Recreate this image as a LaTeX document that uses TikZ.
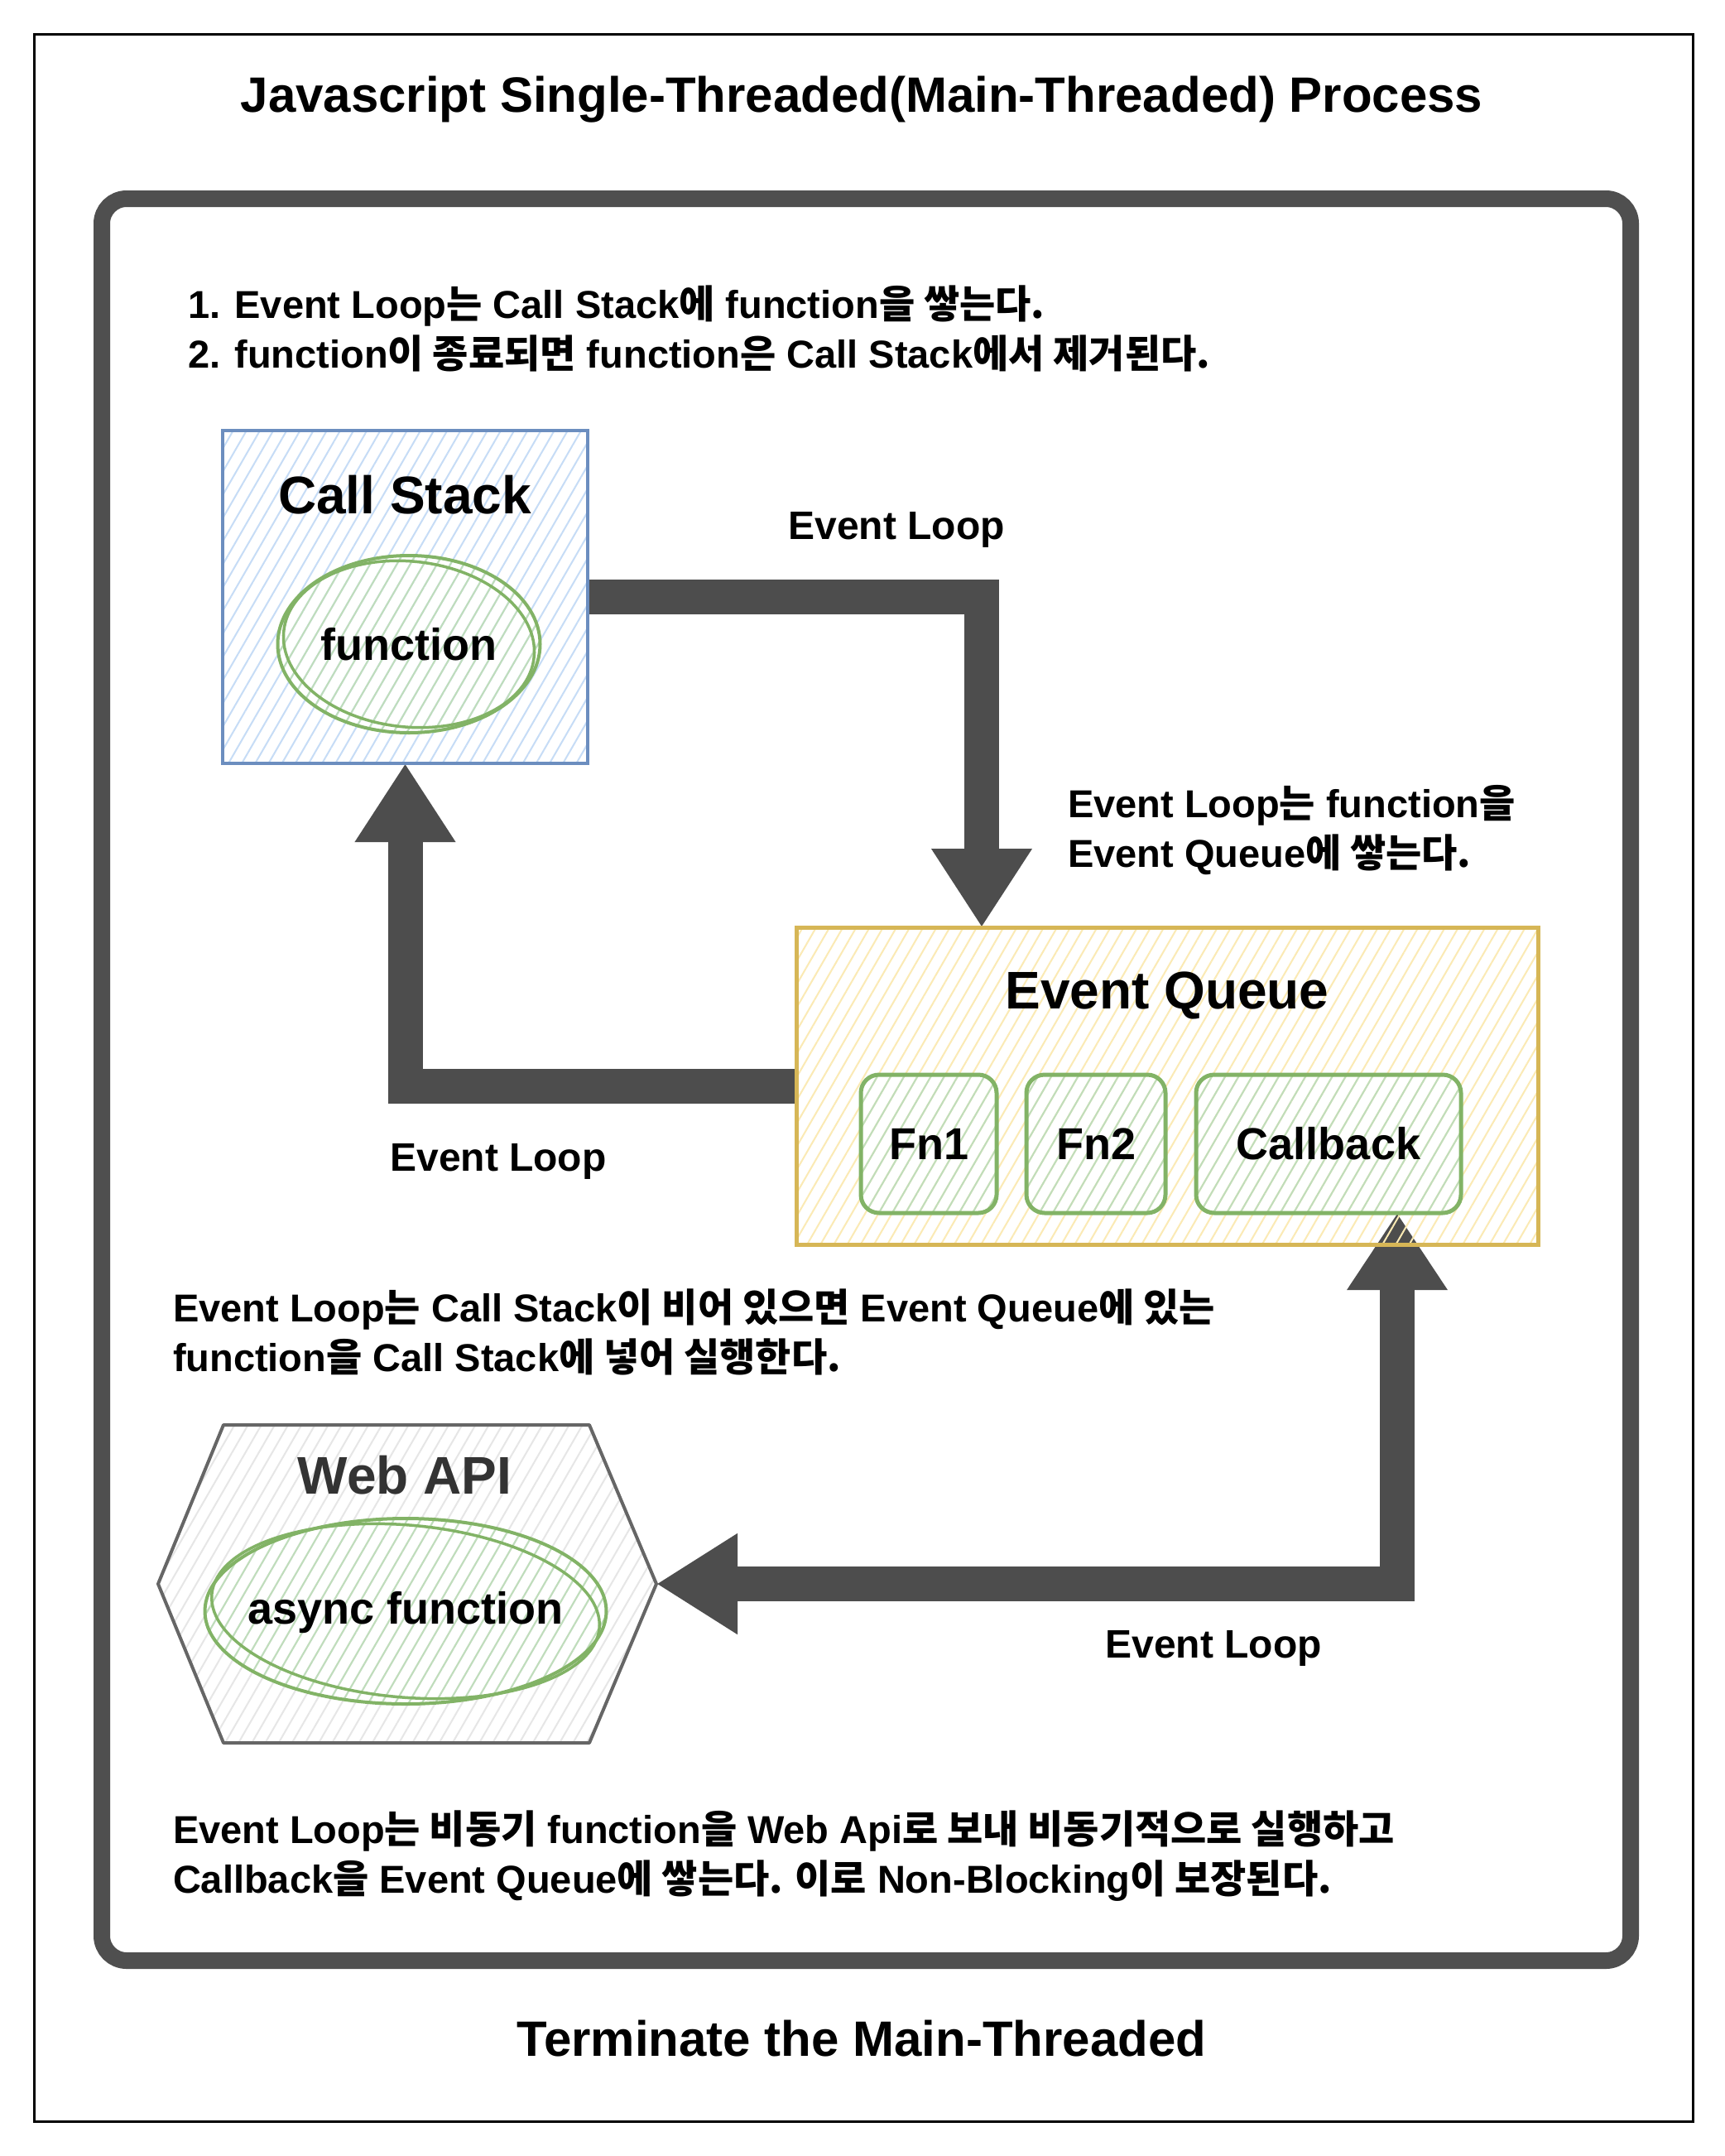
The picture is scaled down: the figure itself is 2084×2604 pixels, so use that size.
\documentclass[tikz,border=0pt]{standalone}
\usepackage{fontspec}
\setmainfont{Liberation Sans}
\newfontfamily\kr{Noto Sans CJK KR}
\usetikzlibrary{arrows.meta,patterns.meta,shapes.geometric,calc}
\definecolor{csstroke}{HTML}{6C8EBF}
\definecolor{cshatch}{HTML}{C6DCF6}
\definecolor{eqstroke}{HTML}{D6B656}
\definecolor{eqhatch}{HTML}{FBEAB4}
\definecolor{grstroke}{HTML}{82B366}
\definecolor{grhatch}{HTML}{BFDDBB}
\definecolor{wastroke}{HTML}{666666}
\definecolor{wahatch}{HTML}{E6E6E6}
\definecolor{watext}{HTML}{333333}
\definecolor{arrowc}{HTML}{4D4D4D}
\definecolor{framec}{HTML}{4F4F4F}
\begin{document}
\begin{tikzpicture}[x=1pt,y=-1pt,
  hatch/.style={pattern={Lines[angle=60,distance=14pt,line width=2pt]},pattern color=#1},
  plain/.style={inner sep=0pt,outer sep=0pt},
  hfont/.style={font=\fontsize{64pt}{76pt}\selectfont\bfseries},
  tfont/.style={font=\fontsize{54pt}{64pt}\selectfont\bfseries},
  lfont/.style={font=\fontsize{48pt}{58pt}\selectfont\bfseries},
  afont/.style={font=\fontsize{47pt}{60pt}\selectfont\bfseries},
  note/.style={plain,afont,align=left,anchor=west},
  greenbox/.style={plain,draw=grstroke,line width=5pt,hatch=grhatch,rounded corners=22pt,tfont},
  greenell/.style={plain,ellipse,draw=grstroke,line width=4pt,hatch=grhatch},
  secondstroke/.style={draw=grstroke,line width=3.5pt},
  flex/.style={draw=arrowc,line width=42pt,line join=miter},
  tipA/.style={-{Triangle[width=115pt,length=95pt]}},
  tipB/.style={{Triangle[width=115pt,length=93pt]}-{Triangle[width=115pt,length=98pt]}}
]
\useasboundingbox (0,0) rectangle (2084,2604);
\fill[white] (0,0) rectangle (2084,2604);

% frames
\node[plain,draw=black,line width=3pt,minimum width=2004pt,minimum height=2520pt] (outer) at (1043,1302) {};
\node[plain,draw=framec,line width=20pt,rounded corners=30pt,minimum width=1847pt,minimum height=2128pt] (main) at (1046.5,1304) {};

\node[plain,font=\fontsize{60pt}{72pt}\selectfont\bfseries] (title) at (1041,120) {Javascript Single-Threaded(Main-Threaded) Process};
\node[plain,font=\fontsize{60pt}{72pt}\selectfont\bfseries] (term) at (1041,2462) {Terminate the Main-Threaded};

% anchors for the boxes (drawn later)
\node[plain,minimum width=441pt,minimum height=402pt] (cs) at (489.5,721) {};
\node[plain,minimum width=896pt,minimum height=383pt] (eq) at (1410,1311.5) {};
\node[plain,minimum width=320pt,minimum height=167pt] (cb) at (1605,1381.5) {};
\node[plain,minimum width=602pt,minimum height=384pt] (web) at (492,1913) {};

% arrows
\draw[flex,tipA] (cs.east) -| ([xshift=224pt]eq.north west);
\draw[flex,tipA] (eq.west) -| (cs.south);
\draw[flex,tipB] ([xshift=243pt]cb.south west) |- (web.east);

% Call Stack
\path[draw=csstroke,line width=4.5pt,hatch=cshatch] (cs.north west) rectangle (cs.south east);
\node[plain,hfont] (cstitle) at (489,598) {Call Stack};
\node[greenell,minimum width=317pt,minimum height=214pt] (fn) at (494,778) {};
\draw[secondstroke,rotate around={-6:(fn.center)}] (fn.center) ellipse [x radius=152pt,y radius=100pt];
\node[plain,tfont] (fntext) at (fn.center) {function};

% Event Queue
\path[draw=eqstroke,line width=5pt,hatch=eqhatch] (eq.north west) rectangle (eq.south east);
\node[plain,hfont] (eqtitle) at (1410,1202) {Event Queue};
\node[greenbox,minimum width=164pt,minimum height=167pt] (fn1) at (1122,1381.5) {Fn1};
\node[greenbox,minimum width=168pt,minimum height=167pt] (fn2) at (1324,1381.5) {Fn2};
\node[greenbox,minimum width=320pt,minimum height=167pt] (cbbox) at (cb) {Callback};

% Web API
\path[draw=wastroke,line width=4pt,hatch=wahatch,line join=round]
  (web.west) -- ([xshift=79pt]web.north west) -- ([xshift=-81pt]web.north east)
  -- (web.east) -- ([xshift=-81pt]web.south east) -- ([xshift=79pt]web.south west) -- cycle;
\node[plain,hfont,text=watext] (watitle) at (489,1782) {Web API};
\node[greenell,minimum width=485pt,minimum height=224pt] (async) at (490,1946) {};
\draw[secondstroke,rotate around={-5:(async.center)}] (async.center) ellipse [x radius=235pt,y radius=104pt];
\node[plain,tfont] (asynctext) at (490,1948) {async function};

% labels
\node[plain,lfont] (el1) at (1083,640) {Event Loop};
\node[plain,lfont] (el2) at (602,1403) {Event Loop};
\node[plain,lfont] (el3) at (1466,1991) {Event Loop};

% notes
\node[note] (n1) at (227,397) {1. Event Loop{\kr 는} Call Stack{\kr 에} function{\kr 을 쌓는다.}\\2. function{\kr 이 종료되면} function{\kr 은} Call Stack{\kr 에서 제거된다.}};
\node[note] (n2) at (1290,1003) {Event Loop{\kr 는} function{\kr 을}\\Event Queue{\kr 에 쌓는다.}};
\node[note] (n3) at (209,1609) {Event Loop{\kr 는} Call Stack{\kr 이 비어 있으면} Event Queue{\kr 에 있는}\\function{\kr 을} Call Stack{\kr 에 넣어 실행한다.}};
\node[note] (n4) at (209,2242) {Event Loop{\kr 는 비동기} function{\kr 을} Web Api{\kr 로 보내 비동기적으로 실행하고}\\Callback{\kr 을} Event Queue{\kr 에 쌓는다. 이로} Non-Blocking{\kr 이 보장된다.}};
\end{tikzpicture}
\end{document}
